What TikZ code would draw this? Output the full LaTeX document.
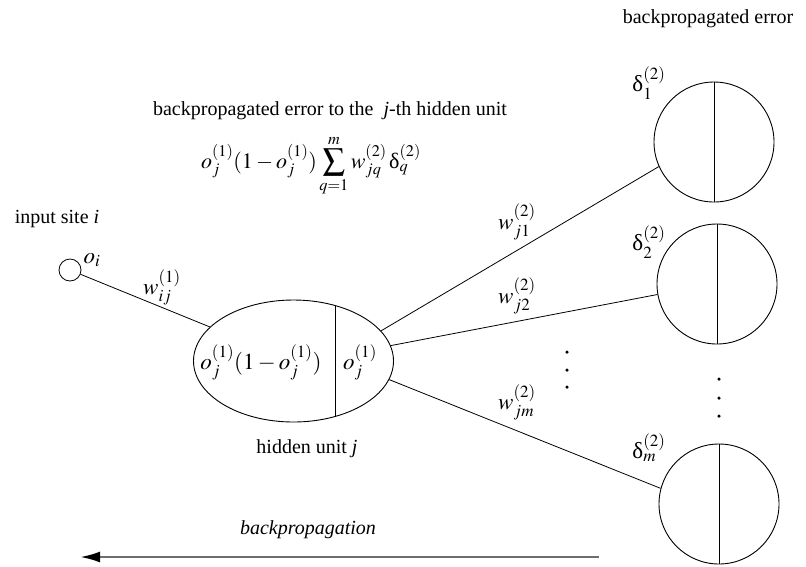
\documentclass[tikz,border=0pt]{standalone}
\usepackage{mathptmx}
\usepackage{fontspec}
\setmainfont{Liberation Serif}
\usetikzlibrary{arrows.meta,calc,shapes.geometric}
\definecolor{arrgray}{RGB}{110,110,110}
\begin{document}
\begin{tikzpicture}[x=1pt,y=-1pt,
  font=\fontsize{20}{24}\selectfont,
  lbl/.style={inner sep=0pt},
  mlbl/.style={inner sep=0pt,font=\fontsize{23}{27}\selectfont},
  unitcirc/.style={circle,draw,line width=0.9pt,minimum size=120pt,inner sep=0pt},
  conn/.style={line width=0.8pt},
  divider/.style={line width=0.8pt},
  dotmark/.style={circle,fill,inner sep=0pt,minimum size=3.5pt}]
\useasboundingbox (0,0) rectangle (806,566);

% texts at top
\node[lbl] (toperr) at (708,19) {backpropagated error};
\node[lbl] (title) at (330,111) {backpropagated error to the \ \textit{j}-th hidden unit};
\node[mlbl,font=\fontsize{22}{26}\selectfont] (formula) at (311,166) {$\displaystyle o_j^{(1)}(1-o_j^{(1)})\sum_{q=1}^{m} w_{jq}^{(2)}\,\mbox{δ}_q^{(2)}$};

% input site
\node[lbl] (inlabel) at (57,219) {input site \textit{i}};
\node[circle,draw,line width=0.8pt,minimum size=22pt,inner sep=0pt] (in) at (70,270) {};
\node[mlbl] (oi) at (92,260) {$o_i$};

% hidden unit
\node[ellipse,draw,line width=0.9pt,minimum width=200pt,minimum height=122pt,inner sep=0pt] (hid) at (293.5,361) {};
\draw[divider] ([shift={(41.5,-55.5)}]hid.center) -- ([shift={(41.5,55.5)}]hid.center);
\node[mlbl] (hidL) at (261,362) {$o_j^{(1)}(1-o_j^{(1)})$};
\node[mlbl] (hidR) at (360,362) {$o_j^{(1)}$};
\node[lbl] (hidname) at (307,449) {hidden unit \textit{j}};

% output units
\node[unitcirc] (c1) at (714,142) {};
\node[unitcirc] (c2) at (717,284) {};
\node[unitcirc] (c3) at (719,504) {};
\draw[divider] (c1.north) -- (c1.south);
\draw[divider] (c2.north) -- (c2.south);
\draw[divider] (c3.north) -- (c3.south);
\node[mlbl] (d1) at (649,83) {$\mbox{δ}_1^{(2)}$};
\node[mlbl] (d2) at (649,242) {$\mbox{δ}_2^{(2)}$};
\node[mlbl] (dm) at (649,448) {$\mbox{δ}_m^{(2)}$};

% connectors
\draw[conn] (in) -- (hid);
\draw[conn] (hid.19) -- (c1.204);
\draw[conn] (hid.9) -- (c2.190);
\draw[conn] (hid.-11) -- (c3.165);

% weight labels
\node[mlbl] (wij) at (162,287) {$w_{ij}^{(1)}$};
\node[mlbl] (wj1) at (517,222) {$w_{j1}^{(2)}$};
\node[mlbl] (wj2) at (517,296) {$w_{j2}^{(2)}$};
\node[mlbl] (wjm) at (517,402) {$w_{jm}^{(2)}$};

% dots
\node[dotmark] (m1) at (567,352) {};
\node[dotmark] (m2) at (567,370) {};
\node[dotmark] (m3) at (567,387) {};
\node[dotmark] (r1) at (719,379) {};
\node[dotmark] (r2) at (719,398) {};
\node[dotmark] (r3) at (719,416) {};

% backpropagation arrow
\node[lbl] (bp) at (308,530) {\textit{backpropagation}};
\coordinate (arrS) at (599,557);
\coordinate (arrE) at (80,557);
\draw[line width=2.5pt,draw=arrgray,-{Latex[length=20pt,width=11pt,color=black]}] (arrS) -- (arrE);
\end{tikzpicture}
\end{document}
